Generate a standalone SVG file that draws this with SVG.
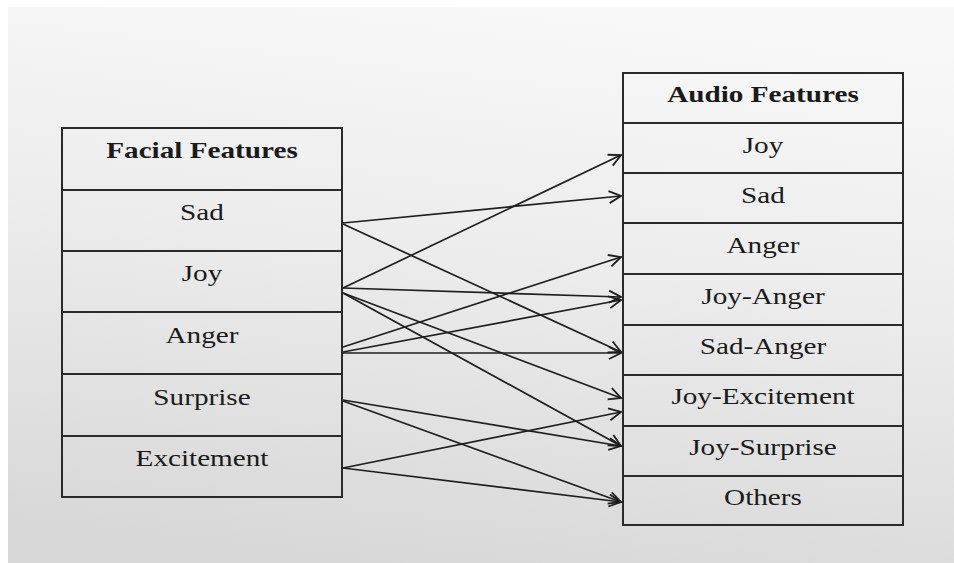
<svg xmlns="http://www.w3.org/2000/svg" width="954" height="563" viewBox="0 0 954 563">
  <defs>
    <linearGradient id="bg" x1="0.6" y1="0" x2="0.4" y2="1">
      <stop offset="0" stop-color="#f8f8f8"/>
      <stop offset="0.45" stop-color="#ececec"/>
      <stop offset="1" stop-color="#d8d8d8"/>
    </linearGradient>
    <marker id="arr" markerUnits="userSpaceOnUse" markerWidth="16" markerHeight="16" refX="13" refY="8" orient="auto">
      <path d="M1,2 L13,8 L1,14" fill="none" stroke="#1e1e1e" stroke-width="1.8" stroke-linejoin="miter"/>
    </marker>
    <style>
      .box { fill: none; stroke: #2a2a2a; stroke-width: 2; }
      .t { font-family: "Liberation Serif", "Times New Roman", serif; font-size: 23px; fill: #1a1a1a; text-anchor: middle; }
      .h { font-weight: bold; }
      .e { fill: none; stroke: #1e1e1e; stroke-width: 1.7; marker-end: url(#arr); }
    </style>
  </defs>

  <rect x="0" y="0" width="954" height="563" fill="#ffffff"/>
  <rect x="8" y="7" width="946" height="556" fill="url(#bg)"/>

  <g id="facial">
    <rect class="box" x="62" y="128" width="280" height="369"/>
    <line class="box" x1="62" y1="190" x2="342" y2="190"/>
    <line class="box" x1="62" y1="251" x2="342" y2="251"/>
    <line class="box" x1="62" y1="312" x2="342" y2="312"/>
    <line class="box" x1="62" y1="374" x2="342" y2="374"/>
    <line class="box" x1="62" y1="436" x2="342" y2="436"/>
    <text class="t h" transform="matrix(1.27 0 0 1 202 158)">Facial Features</text>
    <text class="t" transform="matrix(1.27 0 0 1 202 220)">Sad</text>
    <text class="t" transform="matrix(1.27 0 0 1 202 281)">Joy</text>
    <text class="t" transform="matrix(1.27 0 0 1 202 343)">Anger</text>
    <text class="t" transform="matrix(1.27 0 0 1 202 405)">Surprise</text>
    <text class="t" transform="matrix(1.27 0 0 1 202 466)">Excitement</text>
  </g>

  <g id="audio">
    <rect class="box" x="623" y="73" width="280" height="452"/>
    <line class="box" x1="623" y1="123" x2="903" y2="123"/>
    <line class="box" x1="623" y1="173" x2="903" y2="173"/>
    <line class="box" x1="623" y1="223" x2="903" y2="223"/>
    <line class="box" x1="623" y1="274" x2="903" y2="274"/>
    <line class="box" x1="623" y1="325" x2="903" y2="325"/>
    <line class="box" x1="623" y1="375" x2="903" y2="375"/>
    <line class="box" x1="623" y1="426" x2="903" y2="426"/>
    <line class="box" x1="623" y1="476" x2="903" y2="476"/>
    <text class="t h" transform="matrix(1.27 0 0 1 763 102)">Audio Features</text>
    <text class="t" transform="matrix(1.27 0 0 1 763 153)">Joy</text>
    <text class="t" transform="matrix(1.27 0 0 1 763 203)">Sad</text>
    <text class="t" transform="matrix(1.27 0 0 1 763 253)">Anger</text>
    <text class="t" transform="matrix(1.27 0 0 1 763 304)">Joy-Anger</text>
    <text class="t" transform="matrix(1.27 0 0 1 763 354)">Sad-Anger</text>
    <text class="t" transform="matrix(1.27 0 0 1 763 404)">Joy-Excitement</text>
    <text class="t" transform="matrix(1.27 0 0 1 763 455)">Joy-Surprise</text>
    <text class="t" transform="matrix(1.27 0 0 1 763 505)">Others</text>
  </g>

  <g id="connectors">
    <line class="e" x1="343" y1="223" x2="621" y2="196"/>
    <line class="e" x1="343" y1="224" x2="621" y2="352"/>
    <line class="e" x1="343" y1="288" x2="621" y2="155"/>
    <line class="e" x1="343" y1="288" x2="621" y2="297"/>
    <line class="e" x1="343" y1="293" x2="621" y2="398"/>
    <line class="e" x1="343" y1="293" x2="621" y2="446"/>
    <line class="e" x1="343" y1="347" x2="621" y2="257"/>
    <line class="e" x1="343" y1="352" x2="621" y2="300"/>
    <line class="e" x1="343" y1="353" x2="621" y2="353"/>
    <line class="e" x1="343" y1="400" x2="621" y2="446"/>
    <line class="e" x1="343" y1="401" x2="621" y2="502"/>
    <line class="e" x1="343" y1="468" x2="621" y2="412"/>
    <line class="e" x1="343" y1="468" x2="621" y2="502"/>
  </g>
</svg>
